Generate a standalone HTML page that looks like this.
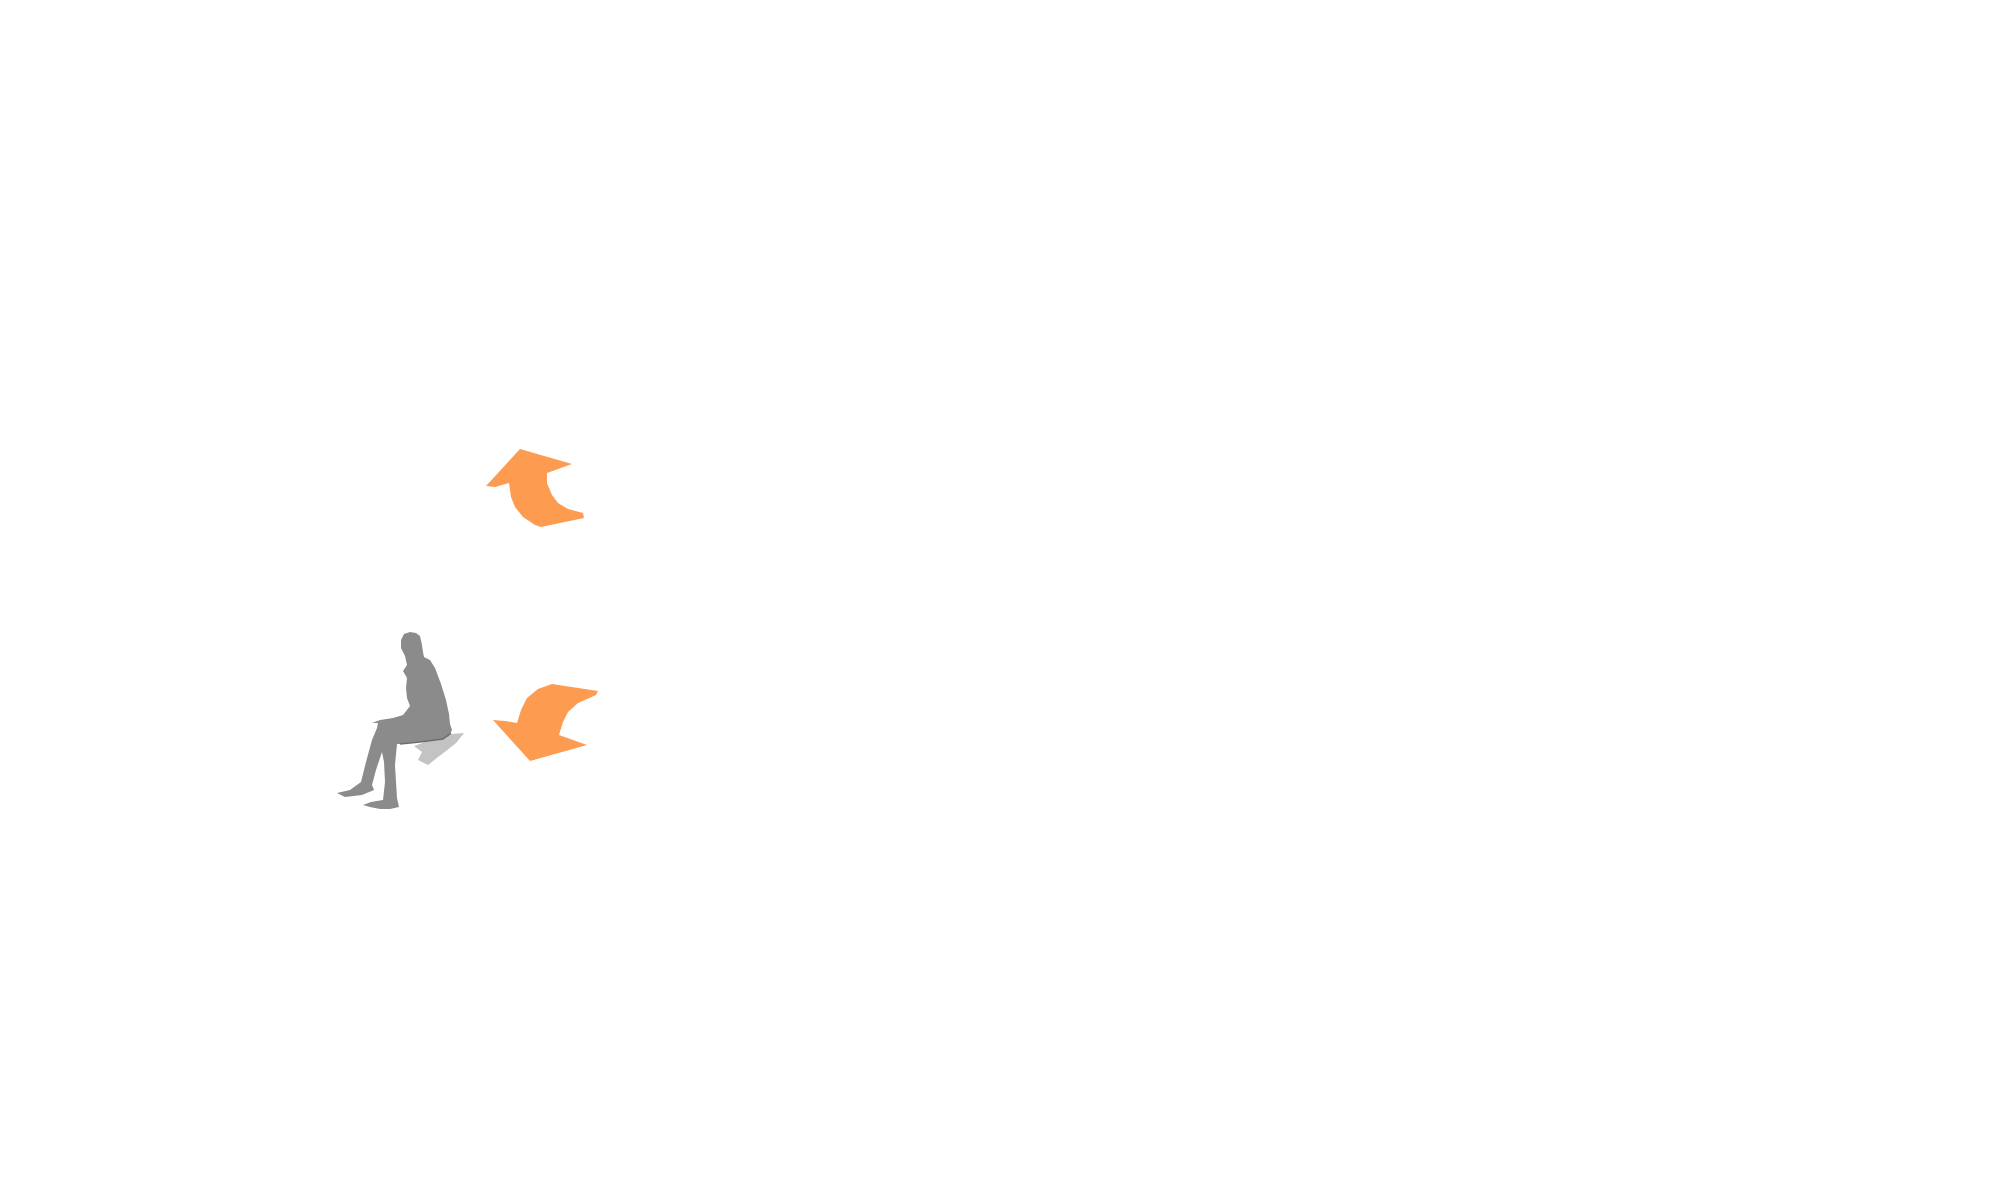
<!DOCTYPE html>
<html>
<head>
<meta charset="utf-8">
<style>
  html,body{margin:0;padding:0;background:#ffffff;}
  body{width:2000px;height:1200px;overflow:hidden;font-family:"Liberation Sans",sans-serif;}
  svg{display:block;}
</style>
</head>
<body>
<svg width="2000" height="1200" viewBox="0 0 2000 1200" xmlns="http://www.w3.org/2000/svg">
  <rect x="0" y="0" width="2000" height="1200" fill="#ffffff"/>

  <!-- top curved arrow (pointing up-left) -->
  <polygon fill="#fd9b51" points="520,449 572,464 547,473 547,483 552,495 558,503 568,509 583,513 584,518 541,527 535,525 523,517 515,507 511,497 509,483 495,487 486,486"/>

  <!-- bottom curved arrow (pointing down-left) -->
  <polygon fill="#fd9b51" points="552,684 598,691 596,695 578,703 568,712 563,722 559,735 587,745 530,761 493,720 505,721 517,723 521,710 527,698 538,689"/>

  <!-- seat shadow -->
  <polygon fill="#c3c3c3" points="440,735 464,733 456,743 446,751 438,757 428,765 418,760 422,752 414,746 425,742"/>

  <!-- seated person silhouette -->
  <polygon fill="#8b8b8b" points="410,632 416,633 420,636 422,645 423,652 424,657 430,660 435,668 441,684 446,700 449,714 450,724 452,730 449,736 443,739 420,742 400,744 397,744 395,765 396,782 397,798 399,807 390,809 380,809 370,807 363,805 371,802 383,800 385,782 384,762 382,752 376,770 372,785 374,790 362,795 345,797 337,793 350,790 361,782 366,762 372,740 377,728 378,723 372,723 380,720 393,718 403,715 410,706 407,698 406,688 407,678 403,671 407,665 405,656 401,648 401,640 404,634"/>
  <!-- dark line under seat -->
  <path d="M400,744 L420,742 L443,739 L451,733" fill="none" stroke="#6e6e6e" stroke-width="1.5"/>
</svg>
</body>
</html>
